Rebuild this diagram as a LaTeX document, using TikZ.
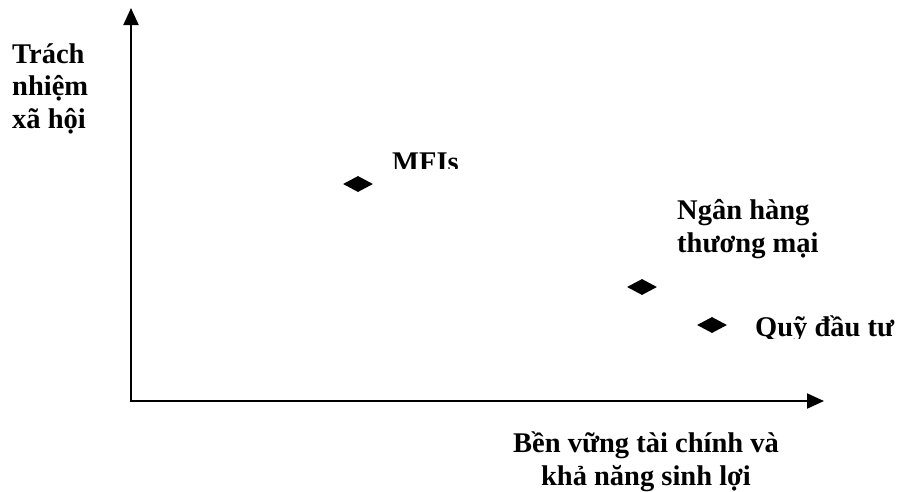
\documentclass[tikz,border=0pt]{standalone}
\usepackage{fontspec}
\setmainfont{Liberation Serif}
\usetikzlibrary{arrows.meta,shapes.geometric}
\tikzset{
  lbl/.style={inner sep=0pt, font=\fontsize{28.5}{32.5}\selectfont\bfseries},
  pt/.style={shape=diamond, fill=black, draw=none, inner sep=0pt, minimum width=30pt, minimum height=16pt},
  axis/.style={line width=2pt, {Triangle[length=17pt,width=15pt]}-{Triangle[length=17pt,width=15pt]}}
}
\begin{document}
\begin{tikzpicture}[x=1pt,y=-1pt]
\useasboundingbox (0,0) rectangle (902,491);
\coordinate (ytip) at (131,8);
\coordinate (O) at (131,401);
\coordinate (xtip) at (824,401);
\draw[axis] (ytip) -- (O) -- (xtip);
\node[lbl, anchor=base west, align=left] (yl) at (12,128) {Trách\\nhiệm\\xã hội};
\node[lbl, anchor=base, align=center] (xl) at (646,485) {Bền vững tài chính và\\khả năng sinh lợi};
\node[pt] (m1) at (358,184) {};
\node[pt] (m2) at (642,287) {};
\node[pt] (m3) at (712,325) {};
\begin{scope}
\clip (380,140) rectangle (480,168);
\node[lbl, anchor=base west] (t1) at (392,171) {MFIs};
\end{scope}
\node[lbl, anchor=base west, align=left] (t2) at (677,252) {Ngân hàng\\thương mại};
\begin{scope}
\clip (740,300) rectangle (902,338);
\node[lbl, anchor=base west] (t3) at (755,336) {Quỹ đầu tư};
\end{scope}
\end{tikzpicture}
\end{document}
